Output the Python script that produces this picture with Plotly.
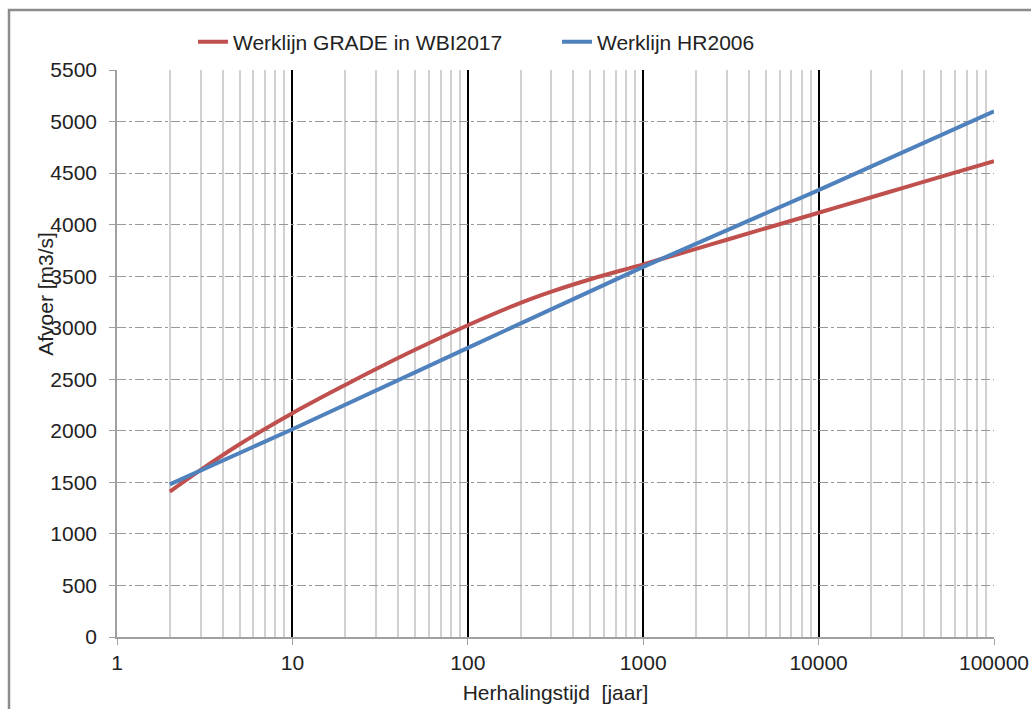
import plotly.graph_objects as go

# Return period [years]
T_grade = [2, 3, 5, 10, 20, 30, 50, 100, 200, 300, 500, 1000, 2000, 3000, 5000,
           10000, 20000, 30000, 50000, 100000]
Q_grade = [1410, 1621, 1870, 2171, 2445, 2600, 2786, 3024, 3241, 3350, 3470, 3615,
           3765, 3853, 3965, 4115, 4266, 4354, 4465, 4615]

T_hr = [2, 10, 100, 1000, 10000, 100000]
Q_hr = [1480, 2015, 2805, 3590, 4335, 5100]

name_grade = "Werklijn GRADE in WBI2017"
name_hr = "Werklijn HR2006"

x_title = "Herhalingstijd\u00a0\u00a0[jaar]"
y_title = "Afvoer [m3/s]"

minor_vals = [m * 10 ** e for e in range(0, 5) for m in range(2, 10)]

FONT = "Liberation Sans, Arial, sans-serif"
FS = 21

fig = go.Figure()
fig.add_trace(go.Scatter(x=T_grade, y=Q_grade, name=name_grade, mode="lines",
                         line=dict(color="#C0504D", width=4, shape="spline", smoothing=1)))
fig.add_trace(go.Scatter(x=T_hr, y=Q_hr, name=name_hr, mode="lines",
                         line=dict(color="#4F81BD", width=4)))

fig.update_layout(
    width=1031, height=709,
    margin=dict(l=117, r=37, t=70, b=71.5, autoexpand=False),
    paper_bgcolor="white", plot_bgcolor="white",
    font=dict(family=FONT, size=FS, color="#222222"),
    showlegend=True,
    legend=dict(orientation="h", xref="container", yref="container",
                x=193 / 1031, y=1 - 42 / 709, xanchor="left", yanchor="middle",
                entrywidth=319, entrywidthmode="pixels",
                font=dict(size=FS, family=FONT, color="#222222"),
                bgcolor="rgba(0,0,0,0)"),
    xaxis=dict(type="log", range=[0, 5], tickmode="linear", tick0=0, dtick=1,
               tickformat="d", showgrid=True, gridcolor="black", gridwidth=2,
               showline=True, linecolor="#A0A0A0", linewidth=1.5,
               ticks="outside", ticklen=6, tickcolor="#A0A0A0",
               tickfont=dict(size=FS, family=FONT, color="#222222"),
               minor=dict(tickmode="array", tickvals=minor_vals, showgrid=True,
                          gridcolor="#D0D0D0", gridwidth=1.5, ticks=""),
               title=dict(text=x_title, font=dict(size=FS, family=FONT, color="#222222"),
                          standoff=12),
               zeroline=False),
    yaxis=dict(range=[0, 5500], tickmode="linear", tick0=0, dtick=500,
               showgrid=True, gridcolor="#999999", gridwidth=1, griddash="dashdot",
               showline=True, linecolor="#A0A0A0", linewidth=1.5,
               ticks="outside", ticklen=6, tickcolor="#A0A0A0",
               ticklabelstandoff=8,
               tickfont=dict(size=FS, family=FONT, color="#222222"),
               zeroline=False),
    annotations=[dict(text=y_title, textangle=-90, xref="paper", yref="paper",
                      x=(46 - 117) / 877, y=(637.5 - 294) / 567.5,
                      xanchor="center", yanchor="middle", showarrow=False,
                      font=dict(size=FS, family=FONT, color="#222222"))],
    shapes=[dict(type="rect", xref="paper", yref="paper",
                 x0=(9 - 117) / 877, x1=(1045 - 117) / 877,
                 y0=(637.5 - 725) / 567.5, y1=(637.5 - 10) / 567.5,
                 line=dict(color="#8C8C8C", width=2.5), fillcolor="rgba(0,0,0,0)",
                 layer="below")],
)

fig.write_html("out.html")
